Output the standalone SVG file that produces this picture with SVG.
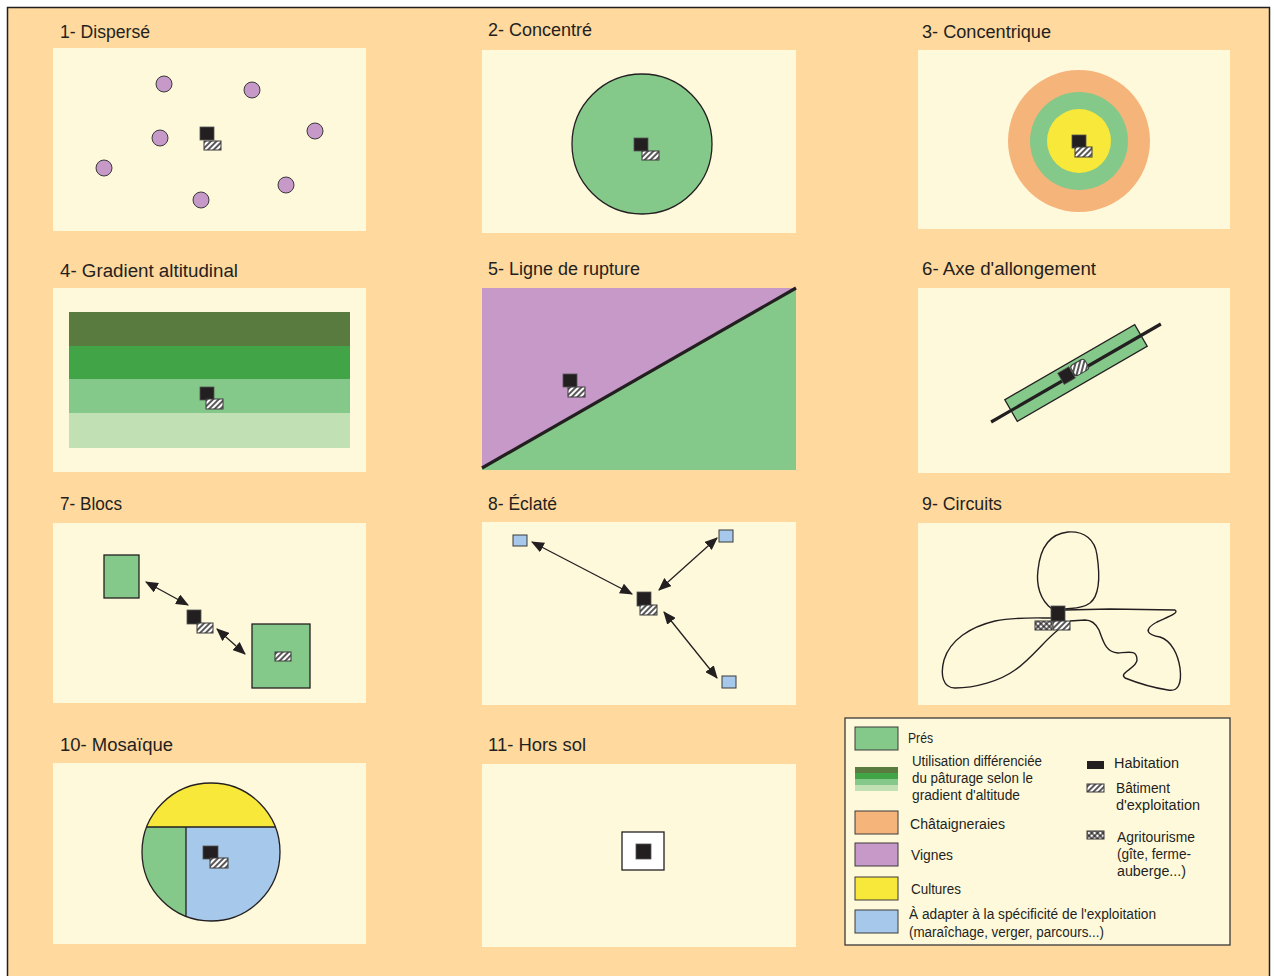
<svg xmlns="http://www.w3.org/2000/svg" width="1274" height="976" viewBox="0 0 1274 976">
<defs>
<style>
.panel{fill:#FFF9DC}
.ttl{font-family:"Liberation Sans",Arial,sans-serif;font-size:18px;fill:#231f20}
.lg{font-family:"Liberation Sans",Arial,sans-serif;font-size:14px;fill:#231f20}
.hab{fill:#231f20;stroke:#555;stroke-width:0.8}
.bat{fill:url(#hatch);stroke:#3a3a3a;stroke-width:1}
.agr{fill:url(#cross);stroke:#3a3a3a;stroke-width:1}
.dk{stroke:#231f20;stroke-width:1.3}
.pre{fill:#84C98A}
.arr{fill:none;stroke:#231f20;stroke-width:1.3;marker-start:url(#ah);marker-end:url(#ah)}
.loop{fill:none;stroke:#231f20;stroke-width:1.4}
</style>
<pattern id="hatch" width="4" height="4" patternUnits="userSpaceOnUse" patternTransform="rotate(45)">
<rect width="4" height="4" fill="#fff"/><line x1="1" y1="0" x2="1" y2="4" stroke="#231f20" stroke-width="1.5"/>
</pattern>
<pattern id="cross" width="4" height="4" patternUnits="userSpaceOnUse" patternTransform="rotate(45)">
<rect width="4" height="4" fill="#fff"/><line x1="1" y1="0" x2="1" y2="4" stroke="#231f20" stroke-width="1.3"/><line x1="0" y1="1" x2="4" y2="1" stroke="#231f20" stroke-width="1.3"/>
</pattern>
<marker id="ah" viewBox="0 0 12 10" refX="11" refY="5" markerWidth="13" markerHeight="11" markerUnits="userSpaceOnUse" orient="auto-start-reverse">
<path d="M0,0 L12,5 L0,10 Z" fill="#231f20"/>
</marker>
</defs>
<rect x="7.5" y="7.5" width="1262" height="980" fill="#FFD99E" stroke="#231f20" stroke-width="1.5"/>

<g id="p1">
<rect class="panel" x="53" y="48" width="313" height="183"/>
<text class="ttl" x="60" y="38" textLength="90" lengthAdjust="spacingAndGlyphs">1- Dispersé</text>
<g fill="#C699C8" stroke="#3a3a3a" stroke-width="1">
<circle cx="164" cy="84" r="8"/><circle cx="252" cy="90" r="8"/><circle cx="160" cy="138" r="8"/><circle cx="315" cy="131" r="8"/><circle cx="104" cy="168" r="8"/><circle cx="201" cy="200" r="8"/><circle cx="286" cy="185" r="8"/>
</g>
<rect class="hab" x="200" y="127" width="14" height="13"/>
<rect class="bat" x="204" y="141" width="17" height="9"/>
</g>

<g id="p2">
<rect class="panel" x="482" y="50" width="314" height="183"/>
<text class="ttl" x="488" y="36" textLength="104" lengthAdjust="spacingAndGlyphs">2- Concentré</text>
<circle cx="642" cy="144" r="70" class="pre dk"/>
<rect class="hab" x="634" y="138" width="14" height="13"/>
<rect class="bat" x="642" y="151" width="17" height="9"/>
</g>

<g id="p3">
<rect class="panel" x="918" y="50" width="312" height="179"/>
<text class="ttl" x="922" y="38" textLength="129" lengthAdjust="spacingAndGlyphs">3- Concentrique</text>
<circle cx="1079" cy="141" r="71" fill="#F5B47A"/>
<circle cx="1079" cy="141" r="49" fill="#84C98A"/>
<circle cx="1079" cy="141" r="32" fill="#F8E83A"/>
<rect class="hab" x="1072" y="135" width="14" height="13"/>
<rect class="bat" x="1075" y="147" width="17" height="10"/>
</g>

<g id="p4">
<rect class="panel" x="53" y="288" width="313" height="184"/>
<text class="ttl" x="60" y="277" textLength="178" lengthAdjust="spacingAndGlyphs">4- Gradient altitudinal</text>
<rect x="69" y="312" width="281" height="34" fill="#5A7B40"/>
<rect x="69" y="346" width="281" height="33" fill="#41A447"/>
<rect x="69" y="379" width="281" height="34" fill="#84C98A"/>
<rect x="69" y="413" width="281" height="35" fill="#C1E0B4"/>
<rect class="hab" x="200" y="387" width="14" height="13"/>
<rect class="bat" x="206" y="399" width="17" height="10"/>
</g>

<g id="p5">
<text class="ttl" x="488" y="275" textLength="152" lengthAdjust="spacingAndGlyphs">5- Ligne de rupture</text>
<polygon points="482,288 796,288 482,468" fill="#C699C8"/>
<polygon points="796,288 796,470 482,470 482,468" fill="#84C98A"/>
<line x1="482" y1="468" x2="796" y2="288" stroke="#231f20" stroke-width="3.2"/>
<rect class="hab" x="563" y="374" width="14" height="13"/>
<rect class="bat" x="568" y="387" width="17" height="10"/>
</g>

<g id="p6">
<rect class="panel" x="918" y="288" width="312" height="185"/>
<text class="ttl" x="922" y="275" textLength="174" lengthAdjust="spacingAndGlyphs">6- Axe d'allongement</text>
<g transform="translate(1076,373) rotate(-30)">
<rect x="-75" y="-12.5" width="150" height="25" class="pre dk"/>
<line x1="-98" y1="0" x2="98" y2="0" stroke="#231f20" stroke-width="3.2"/>
<rect class="hab" x="-16" y="-9" width="13" height="13"/>
<rect class="bat" x="-2" y="-9" width="16" height="12" rx="3"/>
</g>
</g>

<g id="p7">
<rect class="panel" x="53" y="523" width="313" height="180"/>
<text class="ttl" x="60" y="510" textLength="62" lengthAdjust="spacingAndGlyphs">7- Blocs</text>
<rect x="104" y="555" width="35" height="43" class="pre dk"/>
<rect x="252" y="624" width="58" height="64" class="pre dk"/>
<rect class="bat" x="275" y="652" width="16" height="9"/>
<rect class="hab" x="187" y="610" width="14" height="14"/>
<rect class="bat" x="197" y="623" width="16" height="10"/>
</g>

<g id="p8">
<rect class="panel" x="482" y="522" width="314" height="183"/>
<text class="ttl" x="488" y="510" textLength="69" lengthAdjust="spacingAndGlyphs">8- Éclaté</text>
<g fill="#A6C8EA" stroke="#3a3a3a" stroke-width="1">
<rect x="513" y="535" width="14" height="11"/>
<rect x="719" y="530" width="14" height="12"/>
<rect x="722" y="676" width="14" height="12"/>
</g>
<rect class="hab" x="637" y="592" width="14" height="14"/>
<rect class="bat" x="640" y="605" width="17" height="10"/>
</g>

<g id="p9">
<rect class="panel" x="918" y="523" width="312" height="182"/>
<text class="ttl" x="922" y="510" textLength="80" lengthAdjust="spacingAndGlyphs">9- Circuits</text>
<path class="loop" d="M1052,609 C1040,600 1036,585 1038,570 C1040,550 1048,534 1068,532 C1085,531 1095,540 1097,555 C1100,575 1100,595 1090,603 C1082,609 1072,608 1065,609"/>
<path class="loop" d="M1065,610 L1110,609 L1175,610 C1180,613 1165,618 1157,622 C1142,630 1148,635 1160,637 C1172,641 1178,655 1180,668 C1182,684 1178,692 1168,690 C1155,688 1140,684 1125,678 C1118,673 1137,668 1137,660 C1137,650 1130,652 1118,653 C1105,652 1103,640 1099,630 C1095,622 1090,620 1085,620 L1070,621"/>
<path class="loop" d="M1051,618 C1035,618 1015,617 995,621 C970,627 950,640 944,660 C940,675 943,688 955,688 C975,688 1000,681 1015,670 C1030,660 1045,640 1058,630"/>
<rect class="hab" x="1051" y="606" width="14" height="15"/>
<rect class="agr" x="1035" y="621" width="17" height="9"/>
<rect class="bat" x="1053" y="621" width="17" height="9"/>
</g>

<g id="p10">
<rect class="panel" x="53" y="763" width="313" height="181"/>
<text class="ttl" x="60" y="751" textLength="113" lengthAdjust="spacingAndGlyphs">10- Mosaïque</text>
<path d="M146.7,827 A69,69 0 0 1 275.3,827 Z" fill="#F8E83A"/>
<path d="M186,827 L186,916.3 A69,69 0 0 1 146.7,827 Z" fill="#84C98A"/>
<path d="M186,827 L275.3,827 A69,69 0 0 1 186,916.3 Z" fill="#A6C8EA"/>
<circle cx="211" cy="852" r="69" fill="none" stroke="#231f20" stroke-width="1.3"/>
<path d="M146.7,827 L275.3,827 M186,827 L186,916.3" fill="none" stroke="#231f20" stroke-width="1.3"/>
<rect class="hab" x="203" y="846" width="15" height="13"/>
<rect class="bat" x="210" y="858" width="18" height="10"/>
</g>

<g id="p11">
<rect class="panel" x="482" y="764" width="314" height="183"/>
<text class="ttl" x="488" y="751" textLength="98" lengthAdjust="spacingAndGlyphs">11- Hors sol</text>
<rect x="622" y="832" width="42" height="38" fill="#fff" stroke="#231f20" stroke-width="1.3"/>
<rect class="hab" x="636" y="844" width="15" height="15"/>
</g>

<g id="legend">
<rect x="845" y="718" width="385" height="227" fill="#FFF9DC" stroke="#3a3a3a" stroke-width="1.3"/>
<rect x="855" y="727" width="43" height="23" class="pre" stroke="#3a3a3a" stroke-width="1"/>
<rect x="855" y="767" width="43" height="6" fill="#5A7B40"/>
<rect x="855" y="773" width="43" height="6" fill="#41A447"/>
<rect x="855" y="779" width="43" height="6" fill="#84C98A"/>
<rect x="855" y="785" width="43" height="6" fill="#C1E0B4"/>
<rect x="855" y="811" width="43" height="23" fill="#F5B47A" stroke="#3a3a3a" stroke-width="1"/>
<rect x="855" y="843" width="43" height="23" fill="#C699C8" stroke="#3a3a3a" stroke-width="1"/>
<rect x="855" y="877" width="43" height="23" fill="#F8E83A" stroke="#3a3a3a" stroke-width="1"/>
<rect x="855" y="910" width="43" height="23" fill="#A6C8EA" stroke="#3a3a3a" stroke-width="1"/>
<text class="lg" x="908" y="743" textLength="25" lengthAdjust="spacingAndGlyphs">Prés</text>
<text class="lg" x="912" y="766" textLength="130" lengthAdjust="spacingAndGlyphs">Utilisation différenciée</text>
<text class="lg" x="912" y="783" textLength="121" lengthAdjust="spacingAndGlyphs">du pâturage selon le</text>
<text class="lg" x="912" y="800" textLength="108" lengthAdjust="spacingAndGlyphs">gradient d'altitude</text>
<text class="lg" x="910" y="829" textLength="95" lengthAdjust="spacingAndGlyphs">Châtaigneraies</text>
<text class="lg" x="911" y="860" textLength="42" lengthAdjust="spacingAndGlyphs">Vignes</text>
<text class="lg" x="911" y="894" textLength="50" lengthAdjust="spacingAndGlyphs">Cultures</text>
<text class="lg" x="909" y="919" textLength="247" lengthAdjust="spacingAndGlyphs">À adapter à la spécificité de l'exploitation</text>
<text class="lg" x="909" y="937" textLength="195" lengthAdjust="spacingAndGlyphs">(maraîchage, verger, parcours...)</text>
<rect x="1087" y="761" width="17" height="8" fill="#231f20"/>
<rect class="bat" x="1087" y="784" width="17" height="8"/>
<rect class="agr" x="1087" y="831" width="17" height="8"/>
<text class="lg" x="1114" y="768" textLength="65" lengthAdjust="spacingAndGlyphs">Habitation</text>
<text class="lg" x="1116" y="793" textLength="54" lengthAdjust="spacingAndGlyphs">Bâtiment</text>
<text class="lg" x="1116" y="810" textLength="84" lengthAdjust="spacingAndGlyphs">d'exploitation</text>
<text class="lg" x="1117" y="842" textLength="78" lengthAdjust="spacingAndGlyphs">Agritourisme</text>
<text class="lg" x="1117" y="859" textLength="74" lengthAdjust="spacingAndGlyphs">(gîte, ferme-</text>
<text class="lg" x="1117" y="876" textLength="69" lengthAdjust="spacingAndGlyphs">auberge...)</text>
</g>

<g id="connectors">
<line class="arr" x1="146" y1="582" x2="188" y2="605"/>
<line class="arr" x1="217" y1="629" x2="245" y2="654"/>
<line class="arr" x1="532" y1="542" x2="632" y2="594"/>
<line class="arr" x1="717" y1="538" x2="659" y2="590"/>
<line class="arr" x1="664" y1="612" x2="717" y2="678"/>
</g>
</svg>
